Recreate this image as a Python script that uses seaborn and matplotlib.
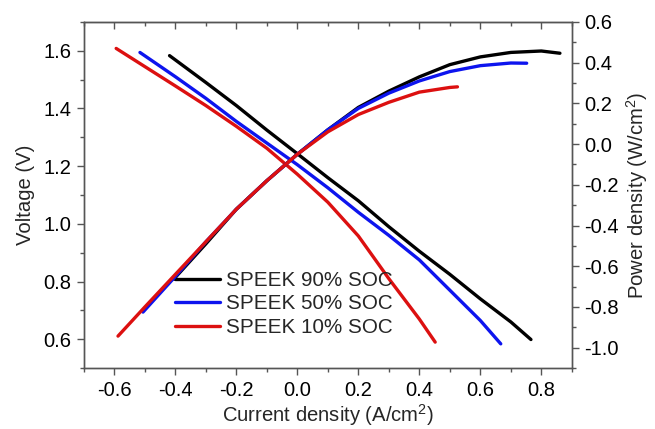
import matplotlib
matplotlib.use("Agg")
import matplotlib.pyplot as plt
import pandas as pd
import seaborn as sns
from matplotlib.ticker import MultipleLocator

# series names and colours
labels = ["SPEEK 90% SOC", "SPEEK 50% SOC", "SPEEK 10% SOC"]
colors = ["#000000", "#0d14ee", "#dc1010"]

# voltage curves (left axis)
v90_i = [-0.419, -0.3, -0.2, -0.1, 0.0, 0.1, 0.2, 0.3, 0.4, 0.5, 0.6, 0.7, 0.766]
v90_v = [1.583, 1.49, 1.41, 1.325, 1.243, 1.16, 1.08, 0.99, 0.905, 0.825, 0.74, 0.66, 0.599]

v50_i = [-0.516, -0.4, -0.3, -0.2, -0.1, 0.0, 0.1, 0.2, 0.3, 0.4, 0.5, 0.6, 0.667]
v50_v = [1.594, 1.51, 1.435, 1.355, 1.28, 1.205, 1.125, 1.04, 0.96, 0.875, 0.77, 0.665, 0.584]

v10_i = [-0.594, -0.5, -0.4, -0.3, -0.2, -0.1, 0.0, 0.1, 0.2, 0.3, 0.4, 0.452]
v10_v = [1.608, 1.545, 1.478, 1.41, 1.338, 1.262, 1.172, 1.075, 0.958, 0.81, 0.67, 0.59]

# power density curves (right axis)
p90_i = [-0.405, -0.3, -0.2, -0.1, 0.0, 0.1, 0.2, 0.3, 0.4, 0.5, 0.6, 0.7, 0.8, 0.861]
p90_p = [-0.663, -0.49, -0.32, -0.18, -0.05, 0.07, 0.18, 0.26, 0.33, 0.39, 0.428, 0.45, 0.457, 0.446]

p50_i = [-0.506, -0.4, -0.3, -0.2, -0.1, 0.0, 0.1, 0.2, 0.3, 0.4, 0.5, 0.6, 0.7, 0.752]
p50_p = [-0.825, -0.65, -0.48, -0.32, -0.18, -0.05, 0.07, 0.175, 0.25, 0.31, 0.356, 0.385, 0.398, 0.397]

p10_i = [-0.588, -0.5, -0.4, -0.3, -0.2, -0.1, 0.0, 0.1, 0.2, 0.3, 0.4, 0.5, 0.525]
p10_p = [-0.943, -0.8, -0.64, -0.48, -0.32, -0.18, -0.05, 0.06, 0.145, 0.205, 0.255, 0.278, 0.281]

x_ticks = [-0.6, -0.4, -0.2, 0.0, 0.2, 0.4, 0.6, 0.8]
v_ticks = [0.6, 0.8, 1.0, 1.2, 1.4, 1.6]
p_ticks = [-1.0, -0.8, -0.6, -0.4, -0.2, 0.0, 0.2, 0.4, 0.6]


def long_df(pairs, ycol):
    rows = []
    for lab, (xs, ys) in zip(labels, pairs):
        for n, (a, b) in enumerate(zip(xs, ys)):
            rows.append({"Series": lab, "order": n, "Current": a, ycol: b})
    return pd.DataFrame(rows)


df_v = long_df([(v90_i, v90_v), (v50_i, v50_v), (v10_i, v10_v)], "Voltage")
df_p = long_df([(p90_i, p90_p), (p50_i, p50_p), (p10_i, p10_p)], "Power")

sns.set_style("ticks")
plt.rcParams["font.family"] = ["Liberation Sans", "DejaVu Sans"]
plt.rcParams["mathtext.fontset"] = "custom"
plt.rcParams["mathtext.rm"] = "Liberation Sans"
plt.rcParams["mathtext.default"] = "regular"

palette = dict(zip(labels, colors))

fig = plt.figure(figsize=(6.55, 4.29), dpi=100)
ax = fig.add_axes([0.128, 0.142, 0.745, 0.807])
ax2 = ax.twinx()

sns.lineplot(data=df_v, x="Current", y="Voltage", hue="Series", hue_order=labels,
             palette=palette, sort=False, estimator=None, linewidth=2.4,
             legend=False, ax=ax)
sns.lineplot(data=df_p, x="Current", y="Power", hue="Series", hue_order=labels,
             palette=palette, sort=False, estimator=None, linewidth=2.4,
             legend=False, ax=ax2)

ax.set_xlim(-0.7, 0.9)
ax.set_ylim(0.5, 1.7)
ax2.set_ylim(-1.1, 0.6)

ax.set_xticks(x_ticks)
ax.set_xticklabels([f"{t:.1f}" for t in x_ticks])
ax.set_yticks(v_ticks)
ax.set_yticklabels([f"{t:.1f}" for t in v_ticks])
ax2.set_yticks(p_ticks)
ax2.set_yticklabels([f"{t:.1f}" for t in p_ticks])
ax.xaxis.set_minor_locator(MultipleLocator(0.1))
ax.yaxis.set_minor_locator(MultipleLocator(0.1))
ax2.yaxis.set_minor_locator(MultipleLocator(0.1))

spine_col = "#555555"
for a in (ax, ax2):
    for s in a.spines.values():
        s.set_color(spine_col)
        s.set_linewidth(1.0)
        s.set_visible(True)
    a.tick_params(which="major", direction="out", length=5, width=1.0,
                  color=spine_col, labelsize=14.5, labelcolor="black", pad=4)
    a.tick_params(which="minor", direction="out", length=3, width=1.0,
                  color=spine_col)

# top axis: ticks pointing inward, no labels
top = ax.secondary_xaxis("top")
top.set_xticks(x_ticks)
top.xaxis.set_minor_locator(MultipleLocator(0.1))
top.tick_params(which="major", direction="in", length=5, width=1.0,
                color=spine_col, labeltop=False)
top.tick_params(which="minor", direction="in", length=3, width=1.0,
                color=spine_col)
top.spines["top"].set_color(spine_col)

ax.set_xlabel("Current density (A/cm$^2$)", fontsize=14.6, labelpad=2)
ax.set_ylabel("Voltage (V)", fontsize=14.6, labelpad=6)
ax2.set_ylabel("Power density (W/cm$^2$)", fontsize=14.6, labelpad=4)

ax.legend(handles=ax.lines[:3], labels=labels, loc="upper left",
          bbox_to_anchor=(0.186, 0.28), frameon=False, fontsize=14.9,
          handlelength=2.17, handletextpad=0.3, labelspacing=0.21,
          borderpad=0, borderaxespad=0)

fig.savefig("out.png", dpi=100)
